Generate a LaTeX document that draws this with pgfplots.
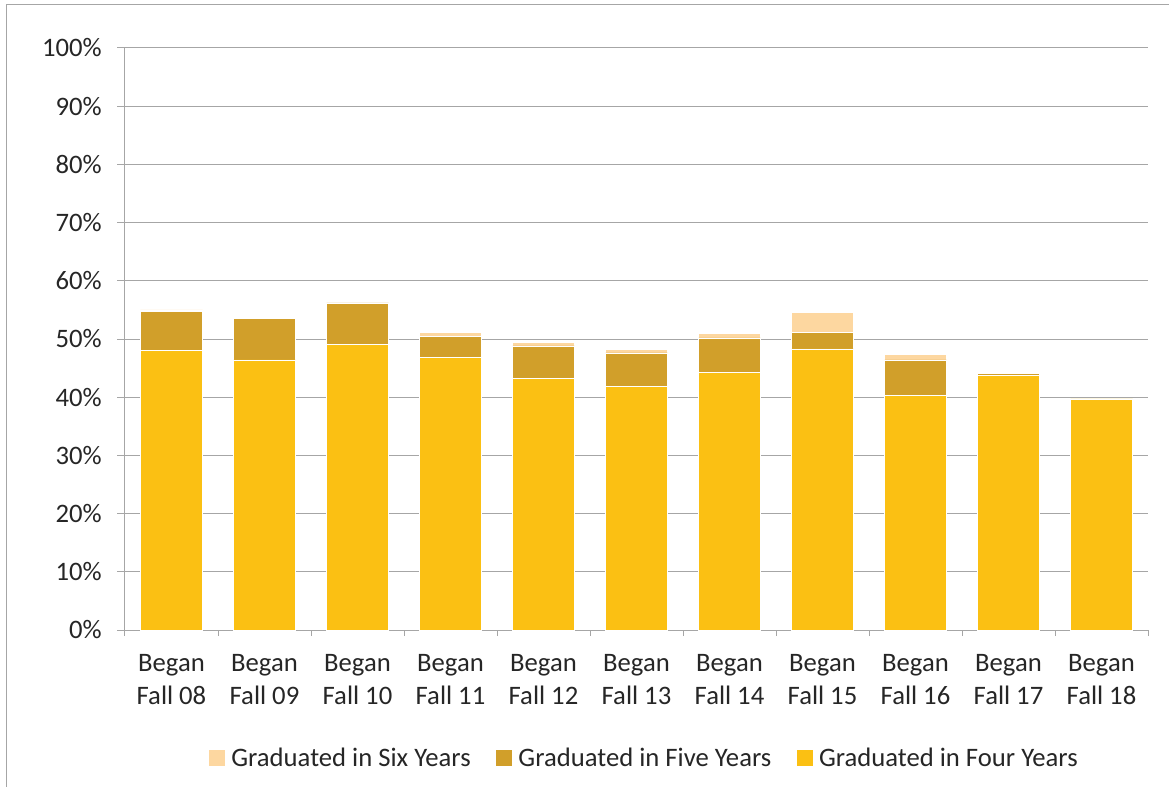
\documentclass[border=0pt]{standalone}
\usepackage{pgfplots}
\pgfplotsset{compat=1.18}
\usepackage{fontspec}
\setmainfont{Carlito}
\definecolor{four}{RGB}{251,192,19}
\definecolor{five}{RGB}{209,159,42}
\definecolor{six}{RGB}{253,215,160}
\definecolor{gridc}{RGB}{166,166,166}
\definecolor{txt}{RGB}{38,38,38}
\begin{document}
\begin{tikzpicture}
\useasboundingbox (-93.75pt,-117pt) rectangle (783pt,472.5pt);
\draw[gridc, line width=0.75pt] (-88.5pt,-130pt) -- (-88.5pt,468.75pt) -- (800pt,468.75pt);
\begin{axis}[
  at={(0,0)}, anchor=south west,
  scale only axis, width=767.25pt, height=436.5pt,
  ybar stacked, bar width=46.5pt,
  xmin=-0.5, xmax=10.5, ymin=0, ymax=100,
  axis x line*=bottom, axis y line*=left,
  axis line style={gridc, line width=0.75pt, -},
  ymajorgrids, grid style={gridc, line width=0.75pt},
  ytick={0,10,...,100},
  yticklabel={\pgfmathprintnumber{\tick}\%},
  /pgf/number format/assume math mode=true,
  tick align=outside, major tick length=6pt,
  tick style={gridc, line width=0.75pt},
  xtick={0,...,10},
  xtick style={draw=none},
  xticklabels={{Began\\Fall 08},{Began\\Fall 09},{Began\\Fall 10},{Began\\Fall 11},{Began\\Fall 12},{Began\\Fall 13},{Began\\Fall 14},{Began\\Fall 15},{Began\\Fall 16},{Began\\Fall 17},{Began\\Fall 18}},
  extra x ticks={-0.5,0.5,...,10.5},
  extra x tick labels={},
  extra x tick style={grid=none, xtick style={draw=gridc}, major tick length=4.5pt},
  xticklabel style={align=center, font=\fontsize{20}{24.75}\selectfont, text=txt, yshift=-9pt},
  yticklabel style={font=\fontsize{20}{24}\selectfont, text=txt, xshift=-8pt},
  legend style={at={(0.508,-0.22)}, anchor=center, draw=none, legend columns=3,
    font=\fontsize{20}{24}\selectfont, text=txt,
    /tikz/every odd column/.append style={column sep=3pt},
    /tikz/every even column/.append style={column sep=17pt}},
  reverse legend,
]
\addplot[fill=four, draw=white, line width=0.4pt, legend image code/.code={\fill[four] (0pt,-5.7pt) rectangle (11.4pt,5.7pt);}] coordinates {
(0,48.1) (1,46.4) (2,49.1) (3,46.9) (4,43.2) (5,41.8) (6,44.3) (7,48.3) (8,40.3) (9,43.8) (10,39.7)};
\addplot[fill=five, draw=white, line width=0.4pt, legend image code/.code={\fill[five] (0pt,-5.7pt) rectangle (11.4pt,5.7pt);}] coordinates {
(0,6.6) (1,7.1) (2,7.1) (3,3.6) (4,5.6) (5,5.8) (6,5.9) (7,2.9) (8,6.1) (9,0.3) (10,0.1)};
\addplot[fill=six, draw=white, line width=0.4pt, legend image code/.code={\fill[six] (0pt,-5.7pt) rectangle (11.4pt,5.7pt);}] coordinates {
(0,0.3) (1,0.2) (2,0.1) (3,0.7) (4,0.6) (5,0.6) (6,0.8) (7,3.4) (8,0.9) (9,0) (10,0)};
\legend{Graduated in Four Years, Graduated in Five Years, Graduated in Six Years}
\end{axis}
\end{tikzpicture}
\end{document}
